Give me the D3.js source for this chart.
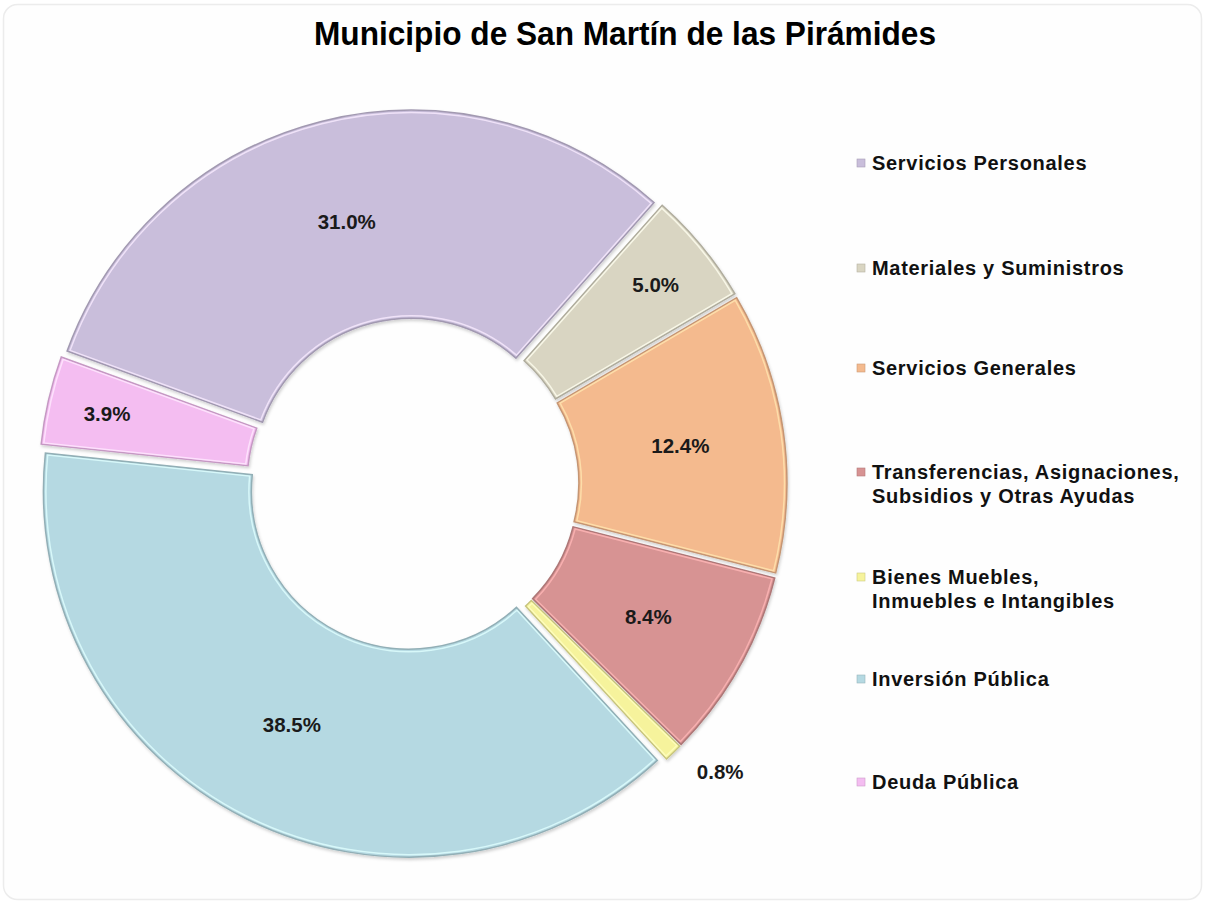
<!DOCTYPE html>
<html>
<head>
<meta charset="utf-8">
<script src="https://cdn.jsdelivr.net/npm/d3@7"></script>
<style>
  body { margin: 0; background: #ffffff; }
  svg { display: block; }
</style>
</head>
<body>
<div id="chart"></div>
<script>
// data
const categories = [
    "Servicios Personales",
    "Materiales y Suministros",
    "Servicios Generales",
    "Transferencias, Asignaciones,\nSubsidios y Otras Ayudas",
    "Bienes Muebles,\nInmuebles e Intangibles",
    "Inversión Pública",
    "Deuda Pública"
];
const values = [31.0, 5.0, 12.4, 8.4, 0.8, 38.5, 3.9];
const palette = ["#c9bedb", "#d9d5c2", "#f4ba8e", "#d79393", "#f6f39c", "#b5d9e2", "#f4bdf1"];
const title = "Municipio de San Martín de las Pirámides";

// dimensions
let dimensions = {
    width: 1206,
    height: 905,
    cx: 413,
    cy: 484,
    outer: 366,
    inner: 158,
    explode: 8
};

const wrapper = d3.select('#chart');

let svg = wrapper.append('svg')
    .attr('width', dimensions.width)
    .attr('height', dimensions.height);

// soft bevel / shadow look
let defs = svg.append('defs');
let bevel = defs.append('filter').attr('id', 'bevel')
    .attr('x', '-5%').attr('y', '-5%').attr('width', '110%').attr('height', '110%');
bevel.append('feGaussianBlur').attr('in', 'SourceAlpha').attr('stdDeviation', 1.5).attr('result', 'blur');
bevel.append('feOffset').attr('in', 'blur').attr('dx', 1).attr('dy', 1.5).attr('result', 'off');
bevel.append('feFlood').attr('flood-color', '#000').attr('flood-opacity', 0.18);
bevel.append('feComposite').attr('in2', 'off').attr('operator', 'in').attr('result', 'shadow');
let merge = bevel.append('feMerge');
merge.append('feMergeNode').attr('in', 'shadow');
merge.append('feMergeNode').attr('in', 'SourceGraphic');

// frame
svg.append('rect')
    .attr('x', 3.5).attr('y', 4.5)
    .attr('width', dimensions.width - 8).attr('height', dimensions.height - 10)
    .attr('rx', 14)
    .attr('fill', '#fefefe')
    .attr('stroke', '#ececec')
    .attr('stroke-width', 1.5);

// title
svg.append('text')
    .attr('x', 625)
    .attr('y', 45)
    .attr('text-anchor', 'middle')
    .attr('textLength', 622)
    .attr('lengthAdjust', 'spacingAndGlyphs')
    .style('font-family', '"Liberation Sans Narrow", "Liberation Sans", Arial, sans-serif')
    .style('font-weight', 'bold')
    .style('font-size', '33px')
    .style('fill', '#000')
    .text(title);

// pie
let pie = d3.pie().sort(null).value(d => d)
    .startAngle(-70 * Math.PI / 180)
    .endAngle((360 - 70) * Math.PI / 180);
let arcs = pie(values);

let arcGen = d3.arc().innerRadius(dimensions.inner).outerRadius(dimensions.outer);
let arcInset = d3.arc().innerRadius(dimensions.inner + 2.5).outerRadius(dimensions.outer - 2.5).padAngle(0.008);

let bounds = svg.append('g')
    .attr('transform', `translate(${dimensions.cx},${dimensions.cy})`);

const mid = d => (d.startAngle + d.endAngle) / 2;

let slices = bounds.selectAll('g.slice')
    .data(arcs)
    .join('g')
    .attr('class', 'slice')
    .attr('transform', d => `translate(${Math.sin(mid(d)) * dimensions.explode},${-Math.cos(mid(d)) * dimensions.explode})`)
    .attr('filter', 'url(#bevel)');

slices.append('path')
    .attr('d', arcGen)
    .attr('fill', (d, i) => palette[i])
    .attr('stroke', (d, i) => d3.color(palette[i]).darker(0.6))
    .attr('stroke-width', 1.5);

slices.append('path')
    .attr('d', arcInset)
    .attr('fill', 'none')
    .attr('stroke', (d, i) => d3.color(palette[i]).brighter(0.6))
    .attr('stroke-opacity', 0.8)
    .attr('stroke-width', 1.5);

// labels: centroid for big slices, further out for thin ones, outside for the tiniest
function labelRadius(v) {
    if (v < 2) return 400;
    if (v < 6) return 306;
    return (dimensions.inner + dimensions.outer) / 2;
}

bounds.selectAll('text.pct')
    .data(arcs)
    .join('text')
    .attr('class', 'pct')
    .attr('transform', d => {
        let r = labelRadius(d.data) + dimensions.explode;
        return `translate(${Math.sin(mid(d)) * r},${-Math.cos(mid(d)) * r})`;
    })
    .attr('text-anchor', d => d.data < 2 ? 'start' : 'middle')
    .attr('dy', d => d.data < 2 ? '0.1em' : '0.35em')
    .style('font-family', '"Liberation Sans", Arial, sans-serif')
    .style('font-weight', 'bold')
    .style('font-size', '20.5px')
    .style('fill', '#1a1a1a')
    .text(d => d3.format('.1f')(d.data) + '%');

// legend
let legendY = [163, 268, 368, 472, 577, 679, 782];
let legend = svg.append('g')
    .attr('transform', 'translate(857,0)');

let items = legend.selectAll('g')
    .data(categories)
    .join('g')
    .attr('transform', (d, i) => `translate(0,${legendY[i]})`);

items.append('rect')
    .attr('x', 0).attr('y', -4)
    .attr('width', 8).attr('height', 8)
    .attr('fill', (d, i) => palette[i])
    .attr('stroke', (d, i) => d3.color(palette[i]).darker(0.5))
    .attr('stroke-width', 0.6);

items.append('text')
    .style('font-family', '"Liberation Sans", Arial, sans-serif')
    .style('font-weight', 'bold')
    .style('font-size', '20px')
    .style('letter-spacing', '0.7px')
    .style('fill', '#111')
    .selectAll('tspan')
    .data(d => d.split('\n'))
    .join('tspan')
    .attr('x', 15)
    .attr('y', (d, i) => i * 24)
    .attr('dy', '0.35em')
    .text(d => d);
</script>
</body>
</html>
